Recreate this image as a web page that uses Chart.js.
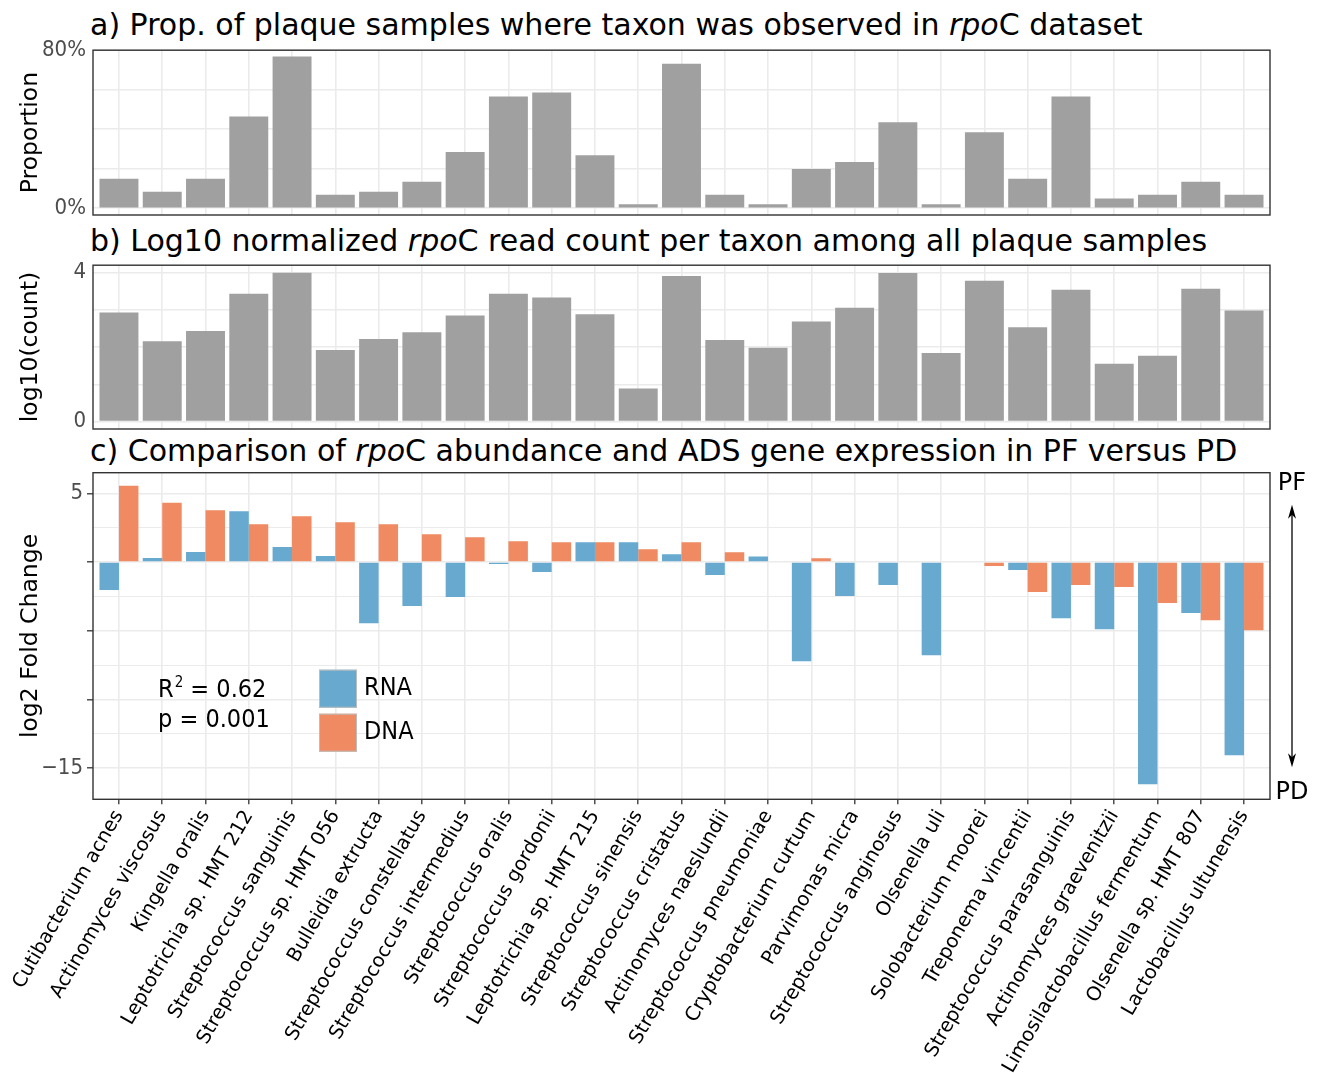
<!DOCTYPE html>
<html>
<head>
<meta charset="utf-8">
<script src="https://cdn.jsdelivr.net/npm/chart.js@4.4.1/dist/chart.umd.min.js"></script>
<style>
  html, body { margin: 0; padding: 0; background: #ffffff; }
  #wrap { position: relative; width: 1319px; height: 1073px; overflow: hidden; background: #ffffff; }
  #wrap canvas { position: absolute; left: 0; }
  .ttl { position: absolute; left: 90px; font-family: 'DejaVu Sans', sans-serif; font-size: 30px;
         line-height: 1; color: #000; white-space: nowrap; }
</style>
</head>
<body>
<div id="wrap">
  <div class="ttl" style="top:10px">a) Prop. of plaque samples where taxon was observed in <i>rpo</i>C dataset</div>
  <div class="ttl" style="top:226px">b) Log10 normalized <i>rpo</i>C read count per taxon among all plaque samples</div>
  <div class="ttl" style="top:436px">c) Comparison of <i>rpo</i>C abundance and ADS gene expression in PF versus PD</div>
  <canvas id="chartA" width="1319" height="215" style="top:30px"></canvas>
  <canvas id="chartB" width="1319" height="214" style="top:245px"></canvas>
  <canvas id="chartC" width="1319" height="618" style="top:455px"></canvas>
</div>
<script>
// Taxa, in plotting order
const TAXA = [
  'Cutibacterium acnes', 'Actinomyces viscosus', 'Kingella oralis', 'Leptotrichia sp. HMT 212',
  'Streptococcus sanguinis', 'Streptococcus sp. HMT 056', 'Bulleidia extructa',
  'Streptococcus constellatus', 'Streptococcus intermedius', 'Streptococcus oralis',
  'Streptococcus gordonii', 'Leptotrichia sp. HMT 215', 'Streptococcus sinensis',
  'Streptococcus cristatus', 'Actinomyces naeslundii', 'Streptococcus pneumoniae',
  'Cryptobacterium curtum', 'Parvimonas micra', 'Streptococcus anginosus', 'Olsenella uli',
  'Solobacterium moorei', 'Treponema vincentii', 'Streptococcus parasanguinis',
  'Actinomyces graevenitzii', 'Limosilactobacillus fermentum', 'Olsenella sp. HMT 807',
  'Lactobacillus ultunensis'
];

// a) proportion of plaque samples in which each taxon was observed
const PROPORTION = [
  0.149, 0.084, 0.149, 0.465, 0.768, 0.069, 0.084, 0.134, 0.285, 0.566, 0.586, 0.269, 0.020,
  0.731, 0.069, 0.020, 0.199, 0.234, 0.435, 0.020, 0.385, 0.149, 0.566, 0.049, 0.069, 0.134, 0.069
];

// b) log10 normalized rpoC read count per taxon
const LOG10_COUNT = [
  2.93, 2.16, 2.43, 3.43, 4.00, 1.92, 2.22, 2.40, 2.85, 3.43, 3.33, 2.88, 0.89,
  3.91, 2.19, 1.98, 2.69, 3.06, 3.99, 1.84, 3.78, 2.53, 3.54, 1.55, 1.77, 3.57, 2.98
];

// c) log2 fold change, PF versus PD
const RNA_LFC = [
  -2.04, 0.29, 0.73, 3.70, 1.09, 0.44, -4.45, -3.21, -2.55, -0.15, -0.73, 1.44, 1.44,
  0.56, -0.95, 0.41, -7.23, -2.48, -1.68, -6.79, 0.05, -0.58, -4.09, -4.89, -16.18, -3.72, -14.06
];
const DNA_LFC = [
  5.55, 4.31, 3.77, 2.75, 3.33, 2.90, 2.75, 2.02, 1.80, 1.51, 1.44, 1.44, 0.92,
  1.44, 0.71, 0.00, 0.27, 0.05, 0.05, 0.00, -0.29, -2.19, -1.68, -1.82, -2.99, -4.23, -4.96
];

// Axis breaks (grid lines) and the breaks that carry a label
const PROP_TICKS = [0, 0.1, 0.2, 0.3, 0.4, 0.5, 0.6, 0.7, 0.8];
const PROP_LABELS = { '0': '0%', '0.8': '80%' };
const COUNT_TICKS = [0, 0.5, 1, 1.5, 2, 2.5, 3, 3.5, 4];
const COUNT_LABELS = { '0': '0', '4': '4' };
const LFC_TICKS = [-15, -12.5, -10, -7.5, -5, -2.5, 0, 2.5, 5];
const LFC_LABELS = { '5': '5', '-15': '\u221215' };
const LFC_MAJOR = [-15, -10, -5, 0, 5];

const STATS = { r2: '0.62', p: '0.001' };

const GREY_BAR = '#A0A0A0';
const RNA_COLOR = '#67A9CF';
const DNA_COLOR = '#EF8A62';
const GRID = '#EBEBEB';
const NARROW = "'DejaVu Sans Condensed', 'Liberation Sans Narrow', sans-serif";
const TICK_FONT = { family: NARROW, size: 22 };
const TITLE_FONT = { family: "'DejaVu Sans', sans-serif", size: 23.5 };

Chart.defaults.animation = false;
Chart.defaults.responsive = false;
Chart.defaults.devicePixelRatio = 1;

// positions 1..n on a continuous axis, padded by 0.6 on both sides
const xy = values => values.map((v, i) => ({ x: i + 1, y: v }));

// Dark frame around each panel
const frame = {
  id: 'frame',
  afterDatasetsDraw(chart) {
    const { ctx, chartArea: a } = chart;
    ctx.save();
    ctx.strokeStyle = '#333333';
    ctx.lineWidth = 1.4;
    ctx.strokeRect(a.left, a.top, a.right - a.left, a.bottom - a.top);
    ctx.restore();
  }
};

const keyOf = v => String(Math.round(v * 1000) / 1000);

function yScale(min, max, ticks, labels, title, opts = {}) {
  return {
    type: 'linear',
    min, max,
    afterBuildTicks: s => { s.ticks = ticks.map(v => ({ value: v })); },
    afterFit: s => { s.width = 93; },
    border: { display: false },
    grid: {
      color: GRID,
      lineWidth: c => (c.tick && opts.major && !opts.major.includes(c.tick.value)) ? 1 : 1.6,
      drawTicks: !!opts.tickMarks,
      tickLength: 6,
      tickWidth: 1.3,
      tickColor: c => (c.tick && opts.major && opts.major.includes(c.tick.value)) ? '#333333' : 'rgba(0,0,0,0)'
    },
    ticks: {
      font: TICK_FONT,
      color: '#4D4D4D',
      padding: opts.tickMarks ? 4 : 7,
      callback: v => labels[keyOf(v)] || ''
    },
    title: { display: true, text: title, font: TITLE_FONT, color: '#000', padding: { top: 17, bottom: 0 } }
  };
}

function taxonX(extra = {}) {
  return Object.assign({
    type: 'linear',
    min: 0.4,
    max: TAXA.length + 0.6,
    offset: false,
    afterBuildTicks: s => { s.ticks = TAXA.map((_, i) => ({ value: i + 1 })); },
    border: { display: false },
    grid: { offset: false, color: GRID, lineWidth: 1.6, drawTicks: false },
    ticks: { display: false, autoSkip: false, callback: v => TAXA[Math.round(v) - 1] }
  }, extra);
}

// a) proportion panel
new Chart(document.getElementById('chartA'), {
  type: 'bar',
  data: {
    datasets: [{ label: 'Proportion', data: xy(PROPORTION), backgroundColor: GREY_BAR,
                 categoryPercentage: 0.9, barPercentage: 1.0 }]
  },
  options: {
    layout: { autoPadding: false, padding: { top: 20, bottom: 30, left: 0, right: 49 } },
    plugins: { legend: { display: false }, tooltip: { enabled: false } },
    scales: {
      x: taxonX({ afterFit: s => { s.height = 0; } }),
      y: yScale(-0.034, 0.8, PROP_TICKS, PROP_LABELS, 'Proportion')
    }
  },
  plugins: [frame]
});

// b) log10 read count panel
new Chart(document.getElementById('chartB'), {
  type: 'bar',
  data: {
    datasets: [{ label: 'log10(count)', data: xy(LOG10_COUNT), backgroundColor: GREY_BAR,
                 categoryPercentage: 0.9, barPercentage: 1.0 }]
  },
  options: {
    layout: { autoPadding: false, padding: { top: 18, bottom: 30, left: 0, right: 49 } },
    plugins: { legend: { display: false }, tooltip: { enabled: false } },
    scales: {
      x: taxonX({ afterFit: s => { s.height = 0; } }),
      y: yScale(-0.2, 4.2, COUNT_TICKS, COUNT_LABELS, 'log10(count)')
    }
  },
  plugins: [frame]
});

// Legend, statistics and the PF / PD direction arrow for panel c
const annotations = {
  id: 'annotations',
  afterDraw(chart) {
    const { ctx, chartArea: a } = chart;
    const font = "25px " + NARROW;
    ctx.save();
    ctx.textBaseline = 'middle';
    ctx.fillStyle = '#000';

    // R² and p value
    const x = a.left + 65;
    const y = a.top + 218;
    ctx.font = font;
    ctx.textAlign = 'left';
    ctx.fillText('R', x, y);
    const w = ctx.measureText('R').width;
    ctx.font = "15px " + NARROW;
    ctx.fillText('2', x + w + 1, y - 8);
    const w2 = ctx.measureText('2').width;
    ctx.font = font;
    ctx.fillText(' = ' + STATS.r2, x + w + w2 + 1, y);
    ctx.fillText('p = ' + STATS.p, x, y + 30);

    // legend keys
    chart.data.datasets.forEach((ds, i) => {
      const kx = a.left + 226, ky = a.top + 197 + i * 44, s = 38;
      ctx.fillStyle = ds.backgroundColor;
      ctx.fillRect(kx, ky, s, s);
      ctx.strokeStyle = '#BDBDBD';
      ctx.lineWidth = 1;
      ctx.strokeRect(kx + 0.5, ky + 0.5, s - 1, s - 1);
      ctx.fillStyle = '#000';
      ctx.font = font;
      ctx.fillText(ds.label, kx + s + 7, ky + s / 2);
    });

    // PF / PD arrow
    const ax = a.right + 22;
    ctx.font = "24px 'DejaVu Sans', sans-serif";
    ctx.textAlign = 'center';
    ctx.fillText('PF', ax, a.top + 11);
    ctx.fillText('PD', ax, a.bottom - 7);
    const y1 = a.top + 32, y2 = a.bottom - 32;
    ctx.strokeStyle = '#000';
    ctx.lineWidth = 1.3;
    ctx.beginPath();
    ctx.moveTo(ax, y1 + 4);
    ctx.lineTo(ax, y2 - 4);
    ctx.stroke();
    const head = (tipY, dir) => {
      ctx.beginPath();
      ctx.moveTo(ax, tipY);
      ctx.lineTo(ax - 4, tipY + dir * 14);
      ctx.lineTo(ax, tipY + dir * 10);
      ctx.lineTo(ax + 4, tipY + dir * 14);
      ctx.closePath();
      ctx.fill();
    };
    head(y1, 1);
    head(y2, -1);
    ctx.restore();
  }
};

// c) log2 fold change panel
new Chart(document.getElementById('chartC'), {
  type: 'bar',
  data: {
    datasets: [
      { label: 'RNA', data: xy(RNA_LFC), backgroundColor: RNA_COLOR, categoryPercentage: 0.9, barPercentage: 1.0 },
      { label: 'DNA', data: xy(DNA_LFC), backgroundColor: DNA_COLOR, categoryPercentage: 0.9, barPercentage: 1.0 }
    ]
  },
  options: {
    layout: { autoPadding: false, padding: { top: 17.7, bottom: 0, left: 0, right: 49 } },
    plugins: { legend: { display: false }, tooltip: { enabled: false } },
    scales: {
      x: taxonX({
        afterFit: s => { s.height = 273.7; },
        grid: { offset: false, color: GRID, lineWidth: 1.6, drawTicks: true, tickLength: 5,
                tickColor: '#333333', tickWidth: 1.3 },
        ticks: {
          display: true, autoSkip: false, maxRotation: 60, minRotation: 60, padding: 2,
          font: { family: "'DejaVu Sans', sans-serif", size: 19.5 }, color: '#000',
          callback: v => TAXA[Math.round(v) - 1]
        }
      }),
      y: yScale(-17.27, 6.5, LFC_TICKS, LFC_LABELS, 'log2 Fold Change', { tickMarks: true, major: LFC_MAJOR })
    }
  },
  plugins: [frame, annotations]
});
</script>
</body>
</html>
